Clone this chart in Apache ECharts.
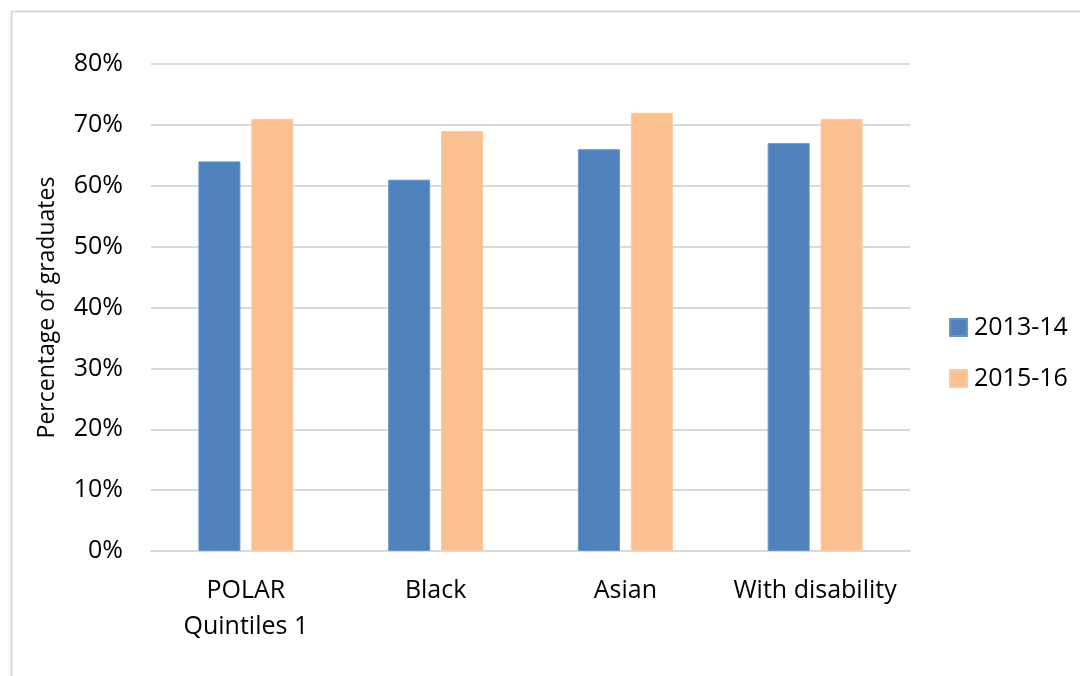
<!DOCTYPE html>
<html>
<head>
<meta charset="utf-8">
<script src="https://cdn.jsdelivr.net/npm/echarts@6/dist/echarts.min.js"></script>
<style>
html,body{margin:0;padding:0;background:#fff;}
#chart{width:1080px;height:676px;}
</style>
</head>
<body>
<div id="chart"></div>
<script>
const categories = ['POLAR\nQuintiles 1', 'Black', 'Asian', 'With disability'];
const series2013 = [64, 61, 66, 67];
const series2015 = [71, 69, 72, 71];
const seriesNames = ['2013-14', '2015-16'];
const yTicks = [0, 10, 20, 30, 40, 50, 60, 70, 80];

const FONT = 'Open Sans';
const chart = echarts.init(document.getElementById('chart'), null, {renderer: 'canvas'});
chart.setOption({
  animation: false,
  backgroundColor: '#fff',
  textStyle: {fontFamily: FONT},
  graphic: [{
    type: 'rect',
    shape: {x: 11.5, y: 11.5, width: 1100, height: 700},
    style: {fill: 'none', stroke: '#d9d9d9', lineWidth: 2},
    silent: true
  }],
  grid: {left: 151, right: 170, top: 64, bottom: 125},
  legend: {
    orient: 'vertical',
    left: 944,
    top: 310,
    itemWidth: 17,
    itemHeight: 17,
    itemGap: 26,
    icon: 'rect',
    textStyle: {fontFamily: FONT, fontSize: 25, color: '#000', lineHeight: 25, padding: [0, 0, 0, 2]},
    data: seriesNames
  },
  xAxis: {
    type: 'category',
    data: categories,
    axisLine: {lineStyle: {color: '#d9d9d9', width: 2}},
    axisTick: {show: false},
    axisLabel: {fontFamily: FONT, fontSize: 25, color: '#000', margin: 22, lineHeight: 36, interval: 0}
  },
  yAxis: {
    type: 'value',
    min: yTicks[0],
    max: yTicks[yTicks.length - 1],
    interval: 10,
    name: 'Percentage of graduates',
    nameLocation: 'middle',
    nameGap: 92,
    nameTextStyle: {fontFamily: FONT, fontSize: 23, color: '#000'},
    axisLine: {show: false},
    axisTick: {show: false},
    splitLine: {lineStyle: {color: '#d9d9d9', width: 2}},
    axisLabel: {fontFamily: FONT, fontSize: 25, color: '#000', margin: 28, formatter: v => v + '%'}
  },
  series: [
    {
      name: seriesNames[0], type: 'bar', data: series2013,
      barWidth: 42, barGap: '26%',
      itemStyle: {color: '#4f81bd', borderColor: '#6a95c8', borderWidth: 1}
    },
    {
      name: seriesNames[1], type: 'bar', data: series2015,
      barWidth: 42, barGap: '26%',
      itemStyle: {color: '#fac090', borderColor: '#fbcaa0', borderWidth: 1}
    }
  ]
});
</script>
</body>
</html>
